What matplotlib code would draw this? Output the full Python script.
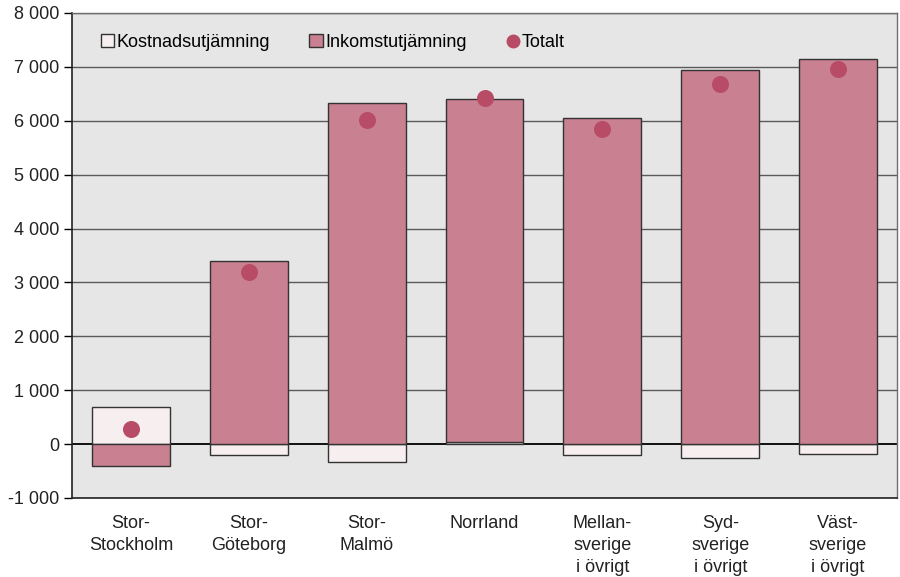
import matplotlib
matplotlib.use("Agg")
import matplotlib.pyplot as plt
from matplotlib.lines import Line2D
from matplotlib.patches import Patch
import numpy as np

plt.rcParams['font.family'] = ['Liberation Sans', 'DejaVu Sans']

categories = ["Stor-\nStockholm", "Stor-\nGöteborg", "Stor-\nMalmö", "Norrland",
              "Mellan-\nsverige\ni övrigt", "Syd-\nsverige\ni övrigt", "Väst-\nsverige\ni övrigt"]
kostnad = [690, -200, -330, 30, -210, -250, -180]
inkomst = [-410, 3390, 6330, 6380, 6050, 6940, 7140]
totalt = [280, 3200, 6010, 6420, 5840, 6690, 6960]
yticks = [-1000, 0, 1000, 2000, 3000, 4000, 5000, 6000, 7000, 8000]

c_kost = "#f7eef0"
c_ink = "#c98090"
c_tot = "#b84b65"

fig = plt.figure(figsize=(9, 5.77), dpi=100)
ax = fig.add_axes([0.08, 0.137, 0.9167, 0.8405])
ax.set_facecolor("#e6e6e6")

x = np.arange(len(categories))
w = 0.66
k = np.array(kostnad, dtype=float)
i = np.array(inkomst, dtype=float)
k_bottom = np.zeros_like(k)
i_bottom = np.where((i >= 0) & (k >= 0), k, 0.0)
i_bottom = np.where((i < 0) & (k < 0), k, i_bottom)

for yv in yticks:
    ax.axhline(yv, color="#000000" if yv == 0 else "#5a5a5a", lw=1.3 if yv == 0 else 1.0, zorder=1)

ax.bar(x, k, w, bottom=k_bottom, color=c_kost, edgecolor="#333333", linewidth=1.0, zorder=2)
ax.bar(x, i, w, bottom=i_bottom, color=c_ink, edgecolor="#333333", linewidth=1.0, zorder=2)
ax.scatter(x, totalt, s=150, color=c_tot, zorder=4, linewidths=0)

ax.set_xlim(-0.5, len(categories) - 0.5)
ax.set_ylim(-1000, 8000)
ax.set_yticks(yticks)
ax.set_yticklabels([f"{v:,}".replace(",", " ") for v in yticks], fontsize=13, color="#222222")
ax.set_xticks(x)
ax.set_xticklabels(categories, fontsize=13, color="#222222", va="top", linespacing=1.4)
ax.tick_params(axis="x", length=0, pad=12)
ax.tick_params(axis="y", length=6, width=1, direction="out", pad=3)

for s in ["left", "bottom"]:
    ax.spines[s].set_color("#222222")
    ax.spines[s].set_linewidth(1.2)
for s in ["top", "right"]:
    ax.spines[s].set_color("#6e6e6e")
    ax.spines[s].set_linewidth(1.0)

handles = [Patch(facecolor=c_kost, edgecolor="#333333", label="Kostnadsutjämning"),
           Patch(facecolor=c_ink, edgecolor="#333333", label="Inkomstutjämning"),
           Line2D([], [], marker="o", color=c_tot, linestyle="none", markersize=9, label="Totalt")]
ax.legend(handles=handles, loc="upper left", bbox_to_anchor=(0.015, 0.99), ncol=3,
          frameon=False, fontsize=13, handlelength=0.75, handleheight=0.75,
          handletextpad=0.15, columnspacing=2.15)

fig.savefig("out.png", dpi=100)
